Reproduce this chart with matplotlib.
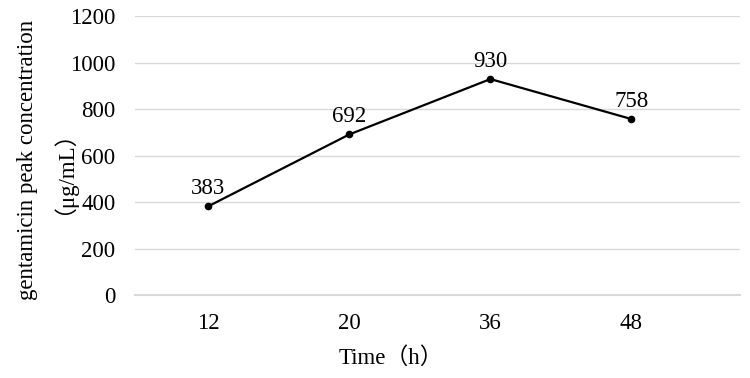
import matplotlib
matplotlib.use('Agg')
import matplotlib.pyplot as plt

# gentamicin peak concentration over time
times = ['12', '20', '36', '48']
peak = [383, 692, 930, 758]
y_ticks = [0, 200, 400, 600, 800, 1000, 1200]

plt.rcParams['font.family'] = ['Liberation Serif', 'Noto Sans CJK SC']

fig = plt.figure(figsize=(7.5, 3.78), dpi=100)
ax = fig.add_axes([0.18, 0.2188, 0.8067, 0.7381])

x = list(range(len(times)))
ax.plot(x, peak, color='black', linewidth=1.6, marker='o', markersize=4.5)
for xi, v in zip(x, peak):
	ax.annotate(str(v), (xi, v), xytext=(0, 5), textcoords='offset points',
				ha='center', va='bottom', fontsize=16.5)

ax.set_xlim(-0.52, 3.77)
ax.set_ylim(0, 1200)
ax.set_yticks(y_ticks)
ax.set_xticks(x)
ax.set_xticklabels(times)
ax.tick_params(axis='both', length=0, labelsize=16.5)
ax.tick_params(axis='y', pad=14)
ax.tick_params(axis='x', pad=13)
ax.grid(axis='y', color='#d9d9d9', linewidth=1)
ax.axhline(0, color='#d9d9d9', linewidth=1.5, clip_on=False, zorder=0)
ax.set_axisbelow(True)
for s in ax.spines.values():
	s.set_visible(False)

# y label in two lines, drawn separately to control the gap
fig.text(28 / 750, 1 - 160 / 378, 'gentamicin peak concentration',
		 rotation=90, ha='center', va='center', fontsize=16.5)
fig.text(52 / 750, 1 - 161 / 378, '（μg/mL）',
		 rotation=90, ha='center', va='center', fontsize=16.5)
fig.text(391 / 750, 1 - 358 / 378, 'Time（h）', ha='center', va='center', fontsize=16.5)

fig.savefig('out.png', dpi=100)
